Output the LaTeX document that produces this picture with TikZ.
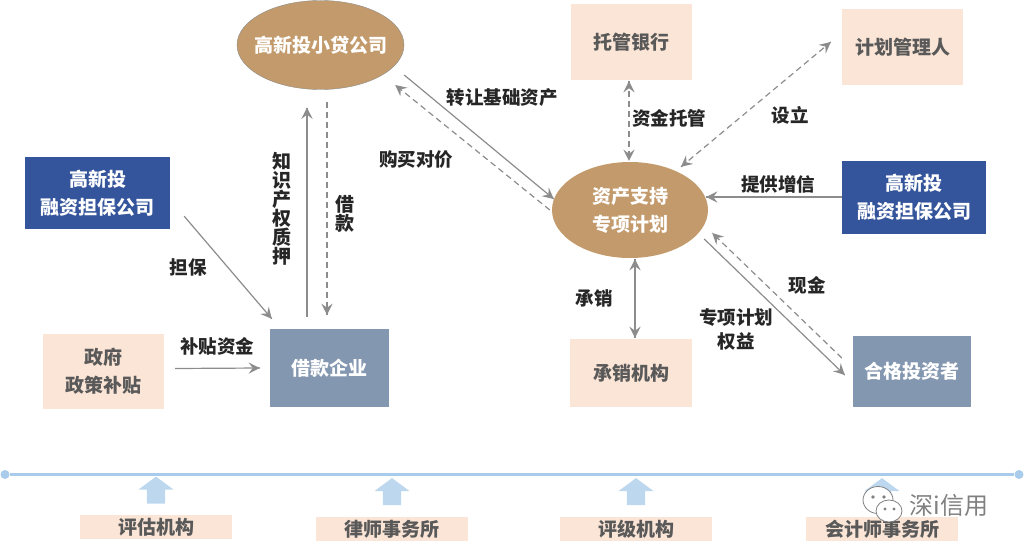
\documentclass[tikz,border=0pt]{standalone}
\usepackage{fontspec}
\setmainfont{Noto Sans CJK SC}
\usetikzlibrary{shapes.geometric,shapes.arrows,decorations.markings}
\definecolor{goldfill}{HTML}{C39A6B}
\definecolor{peachfill}{HTML}{FBE5D6}
\definecolor{navyfill}{HTML}{34559B}
\definecolor{slatefill}{HTML}{8497B0}
\definecolor{linegray}{HTML}{8C8C8C}
\definecolor{textgray}{HTML}{595959}
\definecolor{railblue}{HTML}{A9CCEC}
\definecolor{upblue}{HTML}{BDD7EE}
\tikzset{->/.style = {decoration={markings, mark=at position 1 with {\arrow[scale=2.2]{stealth}}}, postaction={decorate}}}
\tikzset{<->/.style = {decoration={markings, mark=at position 0 with {\arrowreversed[scale=2.2]{stealth}}, mark=at position 1 with {\arrow[scale=2.2]{stealth}}}, postaction={decorate}}}
\tikzset{solidline/.style = {draw=linegray, line width=1.2pt}}
\tikzset{dashline/.style = {draw=linegray, line width=1.2pt, dash pattern=on 6pt off 4pt}}
\tikzset{goldoval/.style = {ellipse, fill=goldfill, text=white, align=center, inner ysep=0pt, inner xsep=-30pt, font=\fontsize{19}{28}\selectfont\bfseries}}
\tikzset{peachbox/.style = {rectangle, fill=peachfill, text=textgray, align=center, inner sep=0pt, font=\fontsize{19}{28}\selectfont\bfseries}}
\tikzset{navybox/.style = {rectangle, fill=navyfill, text=white, align=center, inner sep=0pt, font=\fontsize{19}{28}\selectfont\bfseries}}
\tikzset{slatebox/.style = {rectangle, fill=slatefill, text=white, align=center, inner sep=0pt, font=\fontsize{19}{28}\selectfont\bfseries}}
\tikzset{flowlabel/.style = {text=black!85, align=center, inner sep=0pt, font=\fontsize{18.5}{24}\selectfont\bfseries}}
\tikzset{upshape/.style = {single arrow, fill=upblue, rotate=90, minimum height=27pt, single arrow head extend=8.5pt, single arrow tip angle=107, inner sep=0pt}}
\begin{document}
\begin{tikzpicture}[x=1pt, y=-1pt]
  \useasboundingbox (0,0) rectangle (1024,551);
  % parties
  \node [goldoval, draw=linegray, minimum width=167pt, minimum height=89pt] (lender) at (320.5,45) {高新投小贷公司};
  \node [goldoval, minimum width=156pt, minimum height=96pt] (plan) at (630,210) {资产支持\\专项计划};
  \node [peachbox, minimum width=121pt, minimum height=76pt] (bank) at (631.5,42) {托管银行};
  \node [peachbox, minimum width=121pt, minimum height=76pt] (manager) at (902.5,47) {计划管理人};
  \node [navybox, minimum width=144pt, minimum height=73pt] (guarantorR) at (914,197) {高新投\\融资担保公司};
  \node [navybox, minimum width=145pt, minimum height=72pt] (guarantorL) at (97.5,193) {高新投\\融资担保公司};
  \node [peachbox, minimum width=121pt, minimum height=75pt] (subsidy) at (103.5,371.5) {政府\\政策补贴};
  \node [slatebox, minimum width=119pt, minimum height=78pt] (borrower) at (329.5,368) {借款企业};
  \node [peachbox, minimum width=122pt, minimum height=68pt] (underwriter) at (631,373) {承销机构};
  \node [slatebox, minimum width=118pt, minimum height=71pt] (investor) at (912,371.5) {合格投资者};
  % connectors
  \draw [solidline, ->] ([shift={(14,-13)}]guarantorL.south east) -- ([shift={(2,-10)}]borrower.north west);
  \draw [solidline, ->] ([shift={(11,-3)}]subsidy.east) -- ([shift={(-10,0)}]borrower.west);
  \draw [solidline, ->] ([shift={(-22.5,-12)}]borrower.north) -- ([shift={(-13.5,18)}]lender.south);
  \draw [dashline, ->] ([shift={(6.5,12.5)}]lender.south) -- ([shift={(-2.5,-14)}]borrower.north);
  \draw [solidline, ->] ([shift={(0,30)}]lender.east) -- ([shift={(2,-11)}]plan.west);
  \draw [dashline, ->] ([shift={(-2,0)}]plan.west) -- ([shift={(-9,40)}]lender.east);
  \draw [dashline, <->] ([shift={(-2.5,1)}]bank.south) -- ([shift={(-1,-1)}]plan.north);
  \draw [dashline, <->] ([shift={(51,5)}]plan.north) -- ([shift={(-11,-5)}]manager.west);
  \draw [solidline, ->] (guarantorR.west) -- ([shift={(-2,-13)}]plan.east);
  \draw [solidline, <->] ([shift={(5,1)}]plan.south) -- ([shift={(4,-1)}]underwriter.north);
  \draw [solidline, ->] ([shift={(-4,29)}]plan.east) -- ([shift={(-8,3.5)}]investor.west);
  \draw [dashline, ->] ([shift={(-11,-13.5)}]investor.west) -- ([shift={(4,23)}]plan.east);
  % labels
  \node [flowlabel] (lbltransfer) at (502,98) {转让基础资产};
  \node [flowlabel] (lblprice) at (416,160) {购买对价};
  \node [flowlabel, font=\fontsize{19}{19}\selectfont\bfseries] (lblpledge) at (282,209) {知\\识\\产\\权\\质\\押};
  \node [flowlabel, font=\fontsize{19}{19}\selectfont\bfseries] (lblloan) at (345,214) {借\\款};
  \node [flowlabel] (lblguarantee) at (188,267) {担保};
  \node [flowlabel] (lblfund) at (217,346) {补贴资金};
  \node [flowlabel] (lblcustody) at (669,118) {资金托管};
  \node [flowlabel] (lblsetup) at (790,115) {设立};
  \node [flowlabel] (lblcredit) at (778,184) {提供增信};
  \node [flowlabel] (lblcash) at (807,285) {现金};
  \node [flowlabel] (lblrights) at (736,329) {专项计划\\权益};
  \node [flowlabel] (lblunder) at (594,298) {承销};
  % service rail
  \node [circle, fill=railblue, minimum size=9pt, inner sep=0pt] (railL) at (5,474.5) {};
  \node [circle, fill=railblue, minimum size=9pt, inner sep=0pt] (railR) at (1019,474.5) {};
  \draw [railblue, line width=2.5pt] (railL) -- (railR);
  \node [upshape] (upA) at (156,493.5) {\rule{0pt}{18pt}};
  \node [upshape] (upB) at (392,495) {\rule{0pt}{18pt}};
  \node [upshape] (upC) at (636,495) {\rule{0pt}{18pt}};
  \node [upshape] (upD) at (882,495) {\rule{0pt}{18pt}};
  \node [peachbox, minimum width=152pt, minimum height=24pt] (valuer) at (156,527) {评估机构};
  \node [peachbox, minimum width=152pt, minimum height=24pt] (lawyer) at (392,529) {律师事务所};
  \node [peachbox, minimum width=152pt, minimum height=24pt] (rater) at (636,529) {评级机构};
  \node [peachbox, minimum width=152pt, minimum height=24pt] (auditor) at (882,529) {会计师事务所};
  % watermark
  \draw [gray, fill=white, line width=0.8pt] (878,500) ellipse (15 and 13.5);
  \draw [gray, fill=white, line width=0.8pt] (889,511) ellipse (13 and 11);
  \fill [gray] (873,497) circle (1.8) (884,497) circle (1.8) (885,509) circle (1.6) (894,509) circle (1.6);
  \node [text=gray, inner sep=0pt, font=\fontsize{24}{28}\selectfont] (mark) at (949,505) {深i信用};
\end{tikzpicture}
\end{document}
